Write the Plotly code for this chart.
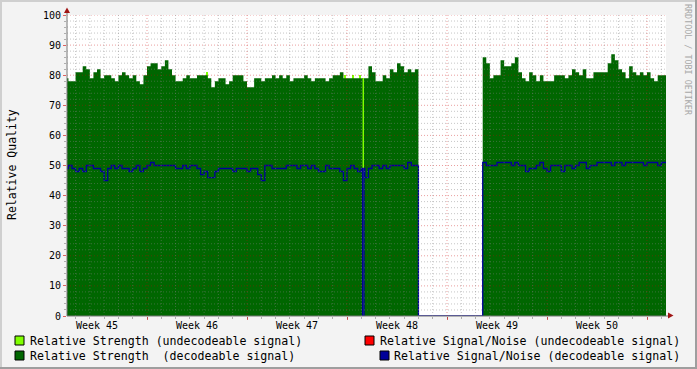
import plotly.graph_objects as go

# ---------------- data ----------------
week_labels = ["Week 45", "Week 46", "Week 47", "Week 48", "Week 49", "Week 50"]
week_start_day = [0, 7, 14, 21, 28, 35]      # Monday of each week, in days
view_start_day = 1.4
view_end_day = 43.33
t_first = 1.25      # day of first sample
t_step = 0.25       # 6-hour samples

strength_decodeable = [
    79, 78, 78, 81, 81, 83, 82, 79, 81, 82,
    79, 80, 80, 79, 78, 80, 81, 80, 79, 80,
    78, 77, 80, 83, 84, 84, 82, 83, 85, 82,
    80, 78, 78, 79, 80, 79, 79, 80, 80, 80,
    79, 76, 78, 79, 79, 77, 78, 80, 80, 80,
    78, 76, 76, 79, 79, 78, 79, 79, 80, 79,
    80, 79, 80, 78, 79, 79, 79, 80, 79, 78,
    79, 79, 79, 78, 79, 80, 80, 81, 79, 79,
    79, 79, 79, 79, 79, 83, 81, 78, 78, 80,
    79, 82, 81, 84, 83, 81, 82, 81, 82,
    0, 0, 0, 0, 0, 0, 0, 0, 0, 0, 0, 0, 0, 0, 0, 0, 0, 0,
    86, 84, 79, 80, 80, 85, 83, 83, 84, 86,
    81, 79, 78, 81, 80, 78, 80, 78, 78, 78,
    80, 80, 80, 79, 80, 82, 81, 80, 82, 79,
    79, 81, 81, 81, 81, 84, 87, 85, 82, 81,
    79, 83, 81, 80, 81, 80, 81, 79, 78, 80,
    80, 80,
]

snr_decodeable = [
    49, 50, 49, 48, 49, 48, 50, 50, 49, 49,
    48, 45, 49, 50, 49, 50, 49, 49, 48, 49,
    50, 48, 49, 50, 51, 50, 50, 50, 50, 50,
    50, 49, 49, 50, 49, 50, 50, 49, 47, 48,
    46, 46, 48, 49, 49, 49, 49, 48, 49, 49,
    49, 48, 49, 49, 47, 45, 50, 50, 49, 49,
    49, 49, 50, 50, 50, 49, 50, 50, 49, 50,
    49, 48, 48, 50, 49, 49, 49, 48, 45, 49,
    50, 49, 48, 49, 46, 49, 50, 50, 49, 50,
    49, 50, 50, 50, 50, 49, 51, 50, 50,
    0, 0, 0, 0, 0, 0, 0, 0, 0, 0, 0, 0, 0, 0, 0, 0, 0, 0,
    51, 50, 50, 50, 51, 51, 51, 51, 50, 51,
    50, 50, 48, 49, 49, 50, 51, 49, 48, 50,
    50, 50, 48, 50, 50, 49, 50, 51, 51, 49,
    50, 50, 51, 51, 51, 51, 50, 51, 51, 50,
    51, 51, 51, 51, 51, 50, 51, 51, 51, 50,
    51, 51,
]

# short periods where only the undecodeable signal was received
undec_start = [11.13, 20.83, 21.35, 21.84, 22.09]
undec_end = [11.27, 20.93, 21.49, 21.98, 22.19]
undec_strength = [81, 80, 80, 80, 79]

dropout_start = 22.09
dropout_end = 22.19

legend_texts = [
    "Relative Strength (undecodeable signal)",
    "Relative Strength  (decodeable signal)",
    "Relative Signal/Noise (undecodeable signal)",
    "Relative Signal/Noise (decodeable signal)",
]

# ---------------- colours / geometry ----------------
C_DEC = "#006600"
C_UNDEC = "#80FF00"
C_SNR_UNDEC = "#FF0000"
C_SNR_DEC = "#000099"
FONT = "DejaVu Sans Mono"

W, H = 697, 369
L, R, T, B = 67, 31, 15, 53
PW, PH = W - L - R, H - T - B


def xp(px):
    return (px - L) / PW


def yp(py):
    return (T + PH - py) / PH


def build(values):
    xs, ys = [], []
    for i, v in enumerate(values):
        t = t_first + t_step * i
        xs.append(t)
        ys.append(v)
        if t <= dropout_start < t + t_step:
            xs += [dropout_start, dropout_end]
            ys += [0, v]
    xs.append(t_first + t_step * len(values))
    ys.append(values[-1])
    return xs, ys


sx, sy = build(strength_decodeable)
nx, ny = build(snr_decodeable)

fig = go.Figure()
fig.add_trace(go.Bar(
    x=[(a + b) / 2 for a, b in zip(undec_start, undec_end)],
    width=[b - a for a, b in zip(undec_start, undec_end)],
    y=undec_strength, marker=dict(color=C_UNDEC, line=dict(width=0)),
    showlegend=False, hoverinfo="skip"))
fig.add_trace(go.Scatter(
    x=sx, y=sy, mode="lines", line=dict(width=0, shape="hv"),
    fill="tozeroy", fillcolor=C_DEC, showlegend=False))
fig.add_trace(go.Scatter(
    x=nx, y=ny, mode="lines", line=dict(width=1.3, color=C_SNR_DEC, shape="hv"),
    showlegend=False))

shapes = []
GRID_MINOR = "rgba(128,128,128,0.45)"
GRID_MAJOR = "rgba(200,0,0,0.38)"
DASH = "1px,2px"
for v in range(2, 101, 2):
    col = GRID_MAJOR if v % 10 == 0 else GRID_MINOR
    shapes.append(dict(type="line", xref="paper", yref="y", x0=0, x1=1, y0=v, y1=v,
                       line=dict(color=col, width=1, dash=DASH), layer="above"))
week_bounds = [d + 7 for d in week_start_day]
for d in range(2, 44):
    col = GRID_MAJOR if d in week_bounds else GRID_MINOR
    shapes.append(dict(type="line", xref="x", yref="paper", x0=d, x1=d, y0=0, y1=1,
                       line=dict(color=col, width=1, dash=DASH), layer="above"))

AXIS_C = "#777777"
ARROW_C = "#A01515"
shapes.append(dict(type="line", xref="paper", yref="paper", x0=0, x1=0, y0=0, y1=yp(12),
                   line=dict(color=AXIS_C, width=1), layer="above"))
shapes.append(dict(type="line", xref="paper", yref="paper", x0=0, x1=xp(668), y0=0, y1=0,
                   line=dict(color=AXIS_C, width=1), layer="above"))
shapes.append(dict(type="path", xref="paper", yref="paper",
                   path=f"M {xp(64)} {yp(13)} L {xp(70)} {yp(13)} L {xp(67)} {yp(7.5)} Z",
                   fillcolor=ARROW_C, line=dict(width=0), layer="above"))
shapes.append(dict(type="path", xref="paper", yref="paper",
                   path=f"M {xp(668)} {yp(312.5)} L {xp(668)} {yp(318.5)} L {xp(673.5)} {yp(315.5)} Z",
                   fillcolor=ARROW_C, line=dict(width=0), layer="above"))

# 3D frame of the canvas
shapes += [
    dict(type="rect", xref="paper", yref="paper", x0=xp(0), x1=xp(W), y0=yp(0), y1=yp(2),
         fillcolor="#CFCFCF", line=dict(width=0)),
    dict(type="rect", xref="paper", yref="paper", x0=xp(0), x1=xp(2), y0=yp(0), y1=yp(H),
         fillcolor="#CFCFCF", line=dict(width=0)),
    dict(type="rect", xref="paper", yref="paper", x0=xp(0), x1=xp(W), y0=yp(H - 2), y1=yp(H),
         fillcolor="#9E9E9E", line=dict(width=0)),
    dict(type="rect", xref="paper", yref="paper", x0=xp(W - 2), x1=xp(W), y0=yp(0), y1=yp(H),
         fillcolor="#9E9E9E", line=dict(width=0)),
]

# legend boxes
legend_boxes = [(15, 336, C_UNDEC), (15, 351, C_DEC), (365, 336, C_SNR_UNDEC), (380, 351, C_SNR_DEC)]
for bx, by, c in legend_boxes:
    shapes.append(dict(type="rect", xref="paper", yref="paper",
                       x0=xp(bx), x1=xp(bx + 9), y0=yp(by), y1=yp(by + 9),
                       fillcolor=c, line=dict(color="black", width=1)))

annotations = []
for lab, d in zip(week_labels, week_start_day):
    annotations.append(dict(x=d + 3.5, y=yp(325), xref="x", yref="paper", text=lab,
                            showarrow=False, xanchor="center", yanchor="middle",
                            font=dict(family=FONT, size=10, color="black")))
legend_pos = [(30, 341), (30, 355.5), (380, 341), (394, 355.5)]
for txt, (lx, ly) in zip(legend_texts, legend_pos):
    annotations.append(dict(x=xp(lx - 2), y=yp(ly), xref="paper", yref="paper",
                            text=txt.replace(" ", "&nbsp;"), showarrow=False,
                            xanchor="left", yanchor="middle",
                            font=dict(family=FONT, size=11.6, color="black")))
annotations.append(dict(x=xp(12), y=yp(165), xref="paper", yref="paper",
                        text="Relative Quality", textangle=-90, showarrow=False,
                        xanchor="center", yanchor="middle",
                        font=dict(family=FONT, size=11.5, color="black")))
annotations.append(dict(x=xp(688), y=yp(60), xref="paper", yref="paper",
                        text="RRDTOOL / TOBI OETIKER", textangle=90, showarrow=False,
                        xanchor="center", yanchor="middle",
                        font=dict(family=FONT, size=8.4, color="#A8A8A8")))

fig.update_layout(
    width=W, height=H,
    margin=dict(l=L, r=R, t=T, b=B, autoexpand=False),
    paper_bgcolor="#F3F3F3", plot_bgcolor="#FFFFFF",
    showlegend=False, bargap=0,
    shapes=shapes, annotations=annotations,
    xaxis=dict(range=[view_start_day, view_end_day], showgrid=False, zeroline=False,
               showline=False, tickmode="array", tickvals=week_bounds,
               ticks="outside", ticklen=3, tickcolor="rgba(200,0,0,0.6)",
               showticklabels=False,
               minor=dict(tickmode="linear", tick0=0, dtick=1, ticks="outside",
                          ticklen=2, tickcolor="rgba(128,128,128,0.6)", showgrid=False)),
    yaxis=dict(range=[0, 100], dtick=10, showgrid=False, zeroline=False, showline=False,
               ticks="outside", ticklen=3, tickcolor="rgba(200,0,0,0.6)",
               tickfont=dict(family=FONT, size=10, color="black"),
               minor=dict(tickmode="linear", tick0=0, dtick=2, ticks="outside",
                          ticklen=2, tickcolor="rgba(128,128,128,0.6)", showgrid=False)),
)

fig.write_html("out.html")
